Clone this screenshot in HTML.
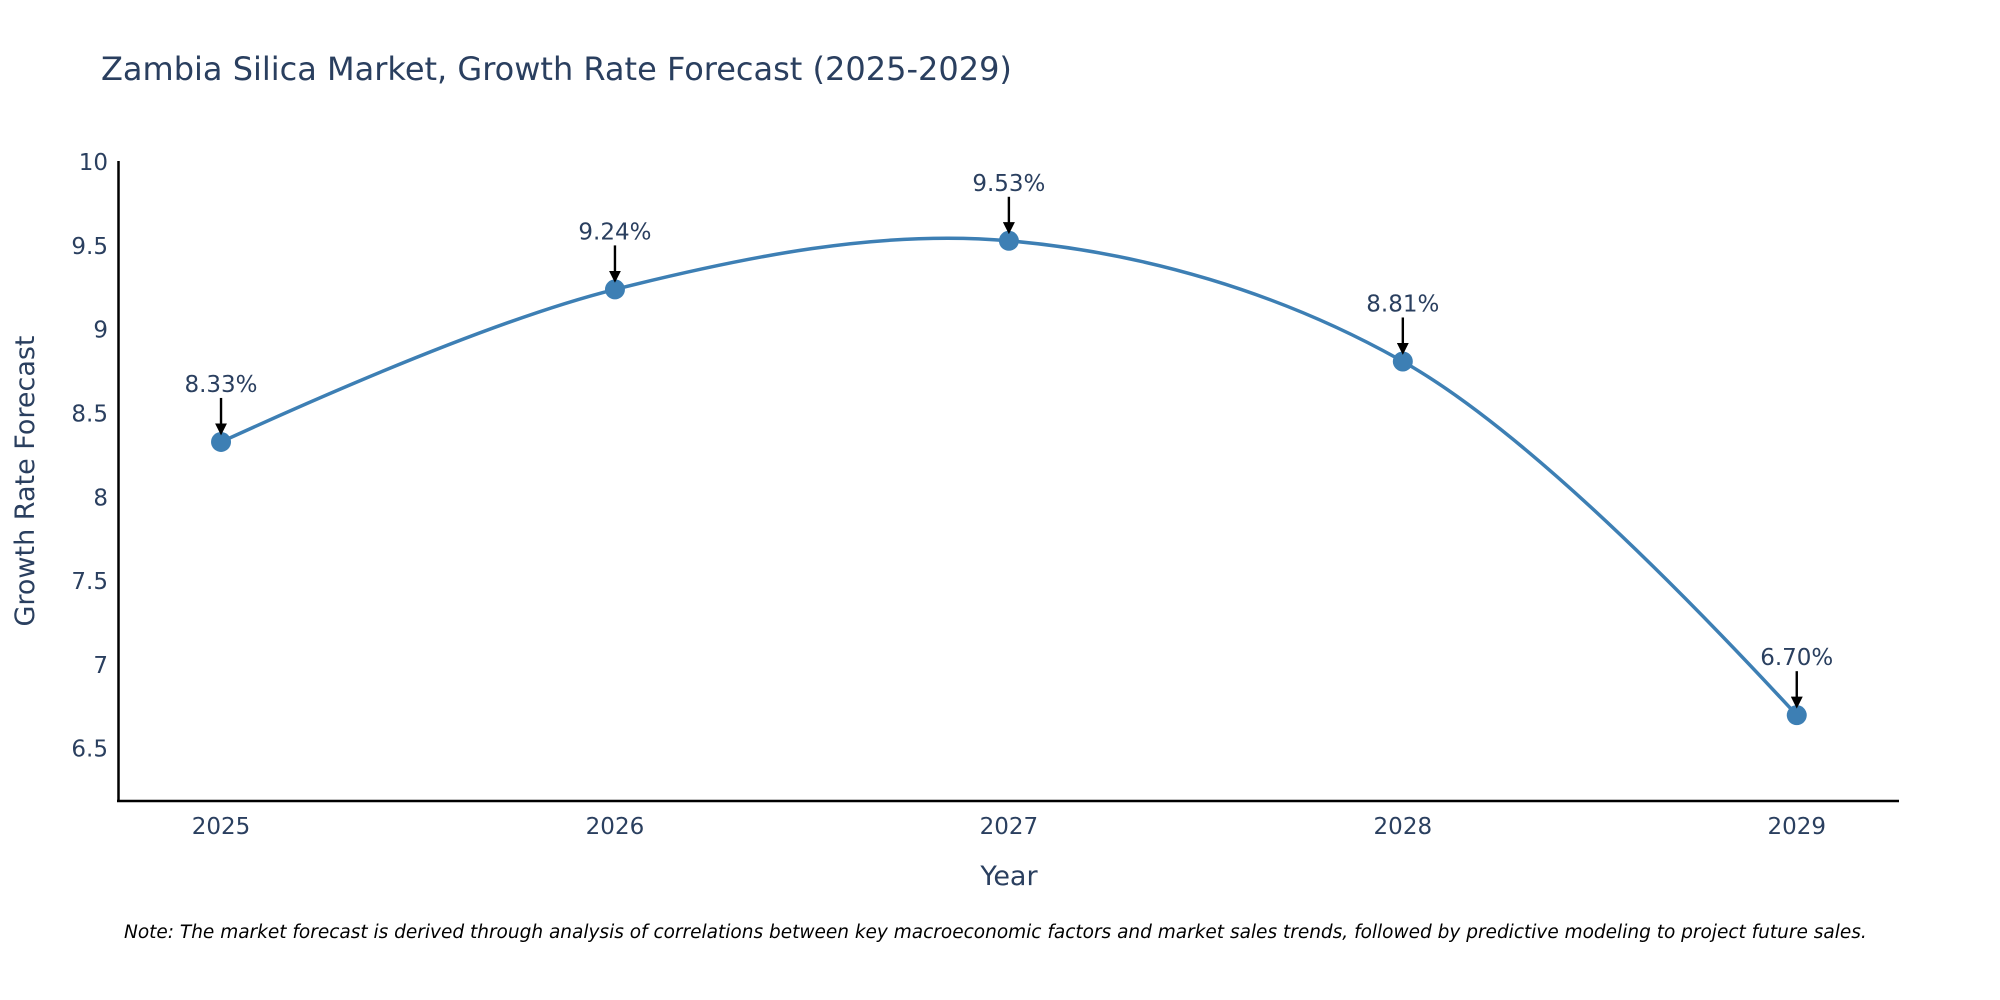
<!DOCTYPE html>
<html><head><meta charset="utf-8"><style>
body{margin:0;background:#fff;overflow:hidden;}
svg{display:block;font-family:"DejaVu Sans","Liberation Sans",sans-serif;}
</style></head><body>
<svg id="chart" width="2000" height="1000" viewBox="0 0 2000 1000">
<text x="101" y="80" font-size="32" fill="#2a3f5f">Zambia Silica Market, Growth Rate Forecast (2025-2029)</text>
<g id="yticks"></g>
<g id="xticks"></g>
<line x1="118.5" y1="161" x2="118.5" y2="802" stroke="#000" stroke-width="2.5"/>
<line x1="117" y1="801" x2="1899" y2="801" stroke="#000" stroke-width="2.5"/>
<path id="line" fill="none" stroke="#3d7fb4" stroke-width="3.5"/>
<g id="points"></g>
<g id="annots"></g>
<text x="1009" y="885" font-size="27" fill="#2a3f5f" text-anchor="middle">Year</text>
<text transform="translate(34,481) rotate(-90)" font-size="27" fill="#2a3f5f" text-anchor="middle">Growth Rate Forecast</text>
<text x="124" y="938" font-size="18.5" font-style="italic" fill="#000">Note: The market forecast is derived through analysis of correlations between key macroeconomic factors and market sales trends, followed by predictive modeling to project future sales.</text>
<defs><marker id="ah" markerWidth="5" markerHeight="5" refX="4" refY="2.5" orient="auto" markerUnits="strokeWidth"><path d="M0,0 L5,2.5 L0,5 Z" fill="#000"/></marker></defs>
</svg>
<script>
const years=[2025,2026,2027,2028,2029];
const values=[8.33,9.24,9.53,8.81,6.70];
const labels=["8.33%","9.24%","9.53%","8.81%","6.70%"];
const yTicks=[6.5,7,7.5,8,8.5,9,9.5,10];
const yTickLabels=["6.5","7","7.5","8","8.5","9","9.5","10"];
const NS="http://www.w3.org/2000/svg";
const xMin=2024.74,xMax=2029.257,yMin=6.188,yMax=10;
const X=v=>118.6+(v-xMin)/(xMax-xMin)*(1898-118.6);
const Y=v=>801-(v-yMin)/(yMax-yMin)*(801-162);
function mk(t,a,p){const e=document.createElementNS(NS,t);for(const k in a)e.setAttribute(k,a[k]);(p||document.getElementById('chart')).appendChild(e);return e;}
const yg=document.getElementById('yticks');
yTicks.forEach((t,i)=>{const e=mk('text',{x:108,y:Y(t)+8,'font-size':23,fill:'#2a3f5f','text-anchor':'end'},yg);e.textContent=yTickLabels[i];

});
const xg=document.getElementById('xticks');
years.forEach(y=>{const e=mk('text',{x:X(y),y:834,'font-size':23,fill:'#2a3f5f','text-anchor':'middle'},xg);e.textContent=String(y);

});
const pts=years.map((y,i)=>[X(y),Y(values[i])]);
function tangent(a,b,c,s){const d1x=a[0]-b[0],d1y=a[1]-b[1],d2x=c[0]-b[0],d2y=c[1]-b[1];
const d1a=Math.pow(d1x*d1x+d1y*d1y,0.25),d2a=Math.pow(d2x*d2x+d2y*d2y,0.25);
const nx=(d2a*d2a*d1x-d1a*d1a*d2x)*s,ny=(d2a*d2a*d1y-d1a*d1a*d2y)*s;
const den1=3*d2a*(d1a+d2a),den2=3*d1a*(d1a+d2a);
return [[b[0]+nx/den1,b[1]+ny/den1],[b[0]-nx/den2,b[1]-ny/den2]];}
const tg=[];for(let i=1;i<pts.length-1;i++)tg.push(tangent(pts[i-1],pts[i],pts[i+1],1));
const P=p=>p[0]+','+p[1];
let d='M'+P(pts[0])+'Q'+P(tg[0][0])+' '+P(pts[1]);
for(let i=2;i<pts.length-1;i++)d+='C'+P(tg[i-2][1])+' '+P(tg[i-1][0])+' '+P(pts[i]);
d+='Q'+P(tg[pts.length-3][1])+' '+P(pts[pts.length-1]);
document.getElementById('line').setAttribute('d',d);
const pg=document.getElementById('points'),ag=document.getElementById('annots');
pts.forEach((p,i)=>{const c=mk('circle',{cx:p[0],cy:p[1],r:10,fill:'#3d7fb4'},pg);


const l=mk('line',{x1:p[0],y1:p[1]-44,x2:p[0],y2:p[1]-9,stroke:'#000','stroke-width':2.4,'marker-end':'url(#ah)'},ag);


const t=mk('text',{x:p[0],y:p[1]-50,'font-size':23,fill:'#2a3f5f','text-anchor':'middle'},ag);t.textContent=labels[i];

});
</script>
</body></html>
